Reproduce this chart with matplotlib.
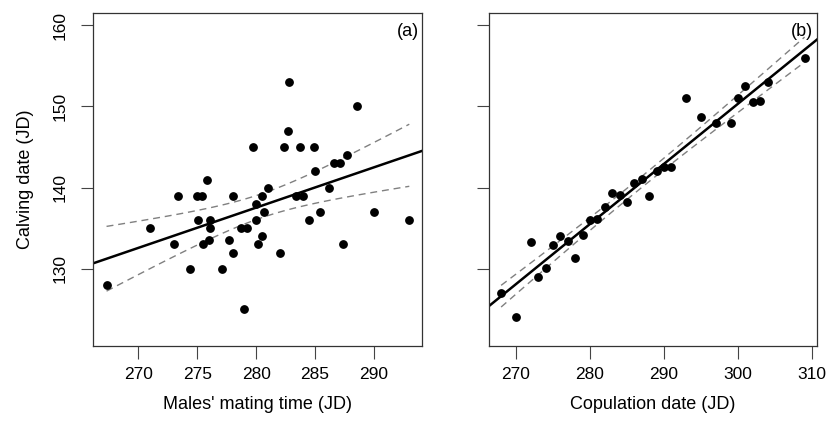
import numpy as np
import matplotlib
matplotlib.use("Agg")
import matplotlib.pyplot as plt

plt.rcParams['font.family'] = ['Liberation Sans', 'DejaVu Sans']

# Panel (a): males' mating time vs calving date
mating_a = [267.3, 271.0, 273.0, 273.4, 274.4, 275.0, 275.1, 275.4, 275.5, 275.8,
            276.0, 276.1, 276.1, 277.1, 277.7, 278.0, 278.0, 278.7, 279.0, 279.2,
            279.7, 280.0, 280.0, 280.2, 280.5, 280.5, 280.7, 281.0, 282.0, 282.4,
            282.7, 282.8, 283.4, 283.7, 284.0, 284.5, 284.9, 285.0, 285.4, 286.2,
            286.6, 287.1, 287.4, 287.7, 288.6, 290.0, 293.0]
calving_a = [128, 135, 133, 139, 130, 139, 136, 139, 133, 141,
             133.5, 136, 135, 130, 133.5, 132, 139, 135, 125, 135,
             145, 138, 136, 133, 139, 134, 137, 140, 132, 145,
             147, 153, 139, 145, 139, 136, 145, 142, 137, 140,
             143, 143, 133, 144, 150, 137, 136]

# Panel (b): copulation date vs calving date
copul_b = [268, 270, 272, 273, 274, 275, 276, 277, 278, 279,
           280, 281, 282, 283, 284, 285, 286, 287, 288, 289,
           290, 290.9, 293, 295, 297, 299, 300, 301, 302, 303,
           304, 309]
calving_b = [127, 124, 133.3, 129, 130.1, 132.9, 134, 133.4, 131.3, 134.2,
             136, 136.1, 137.6, 139.3, 139.1, 138.2, 140.6, 141.1, 139, 142,
             142.6, 142.5, 151, 148.7, 148, 148, 151, 152.5, 150.5, 150.7,
             153, 156]

x_ticks_a = [270, 275, 280, 285, 290]
x_ticks_b = [270, 280, 290, 300, 310]
y_ticks = [130, 140, 150, 160]


def fit_ci(x, y, tval):
    x = np.asarray(x, float)
    y = np.asarray(y, float)
    n = len(x)
    b, a = np.polyfit(x, y, 1)
    res = y - (a + b * x)
    s = np.sqrt(np.sum(res ** 2) / (n - 2))
    sxx = np.sum((x - x.mean()) ** 2)
    xx = np.linspace(x.min(), x.max(), 100)
    se = s * np.sqrt(1 / n + (xx - x.mean()) ** 2 / sxx)
    yy = a + b * xx
    return a, b, xx, yy - tval * se, yy + tval * se


def draw(ax, x, y, tval, xlim, xticks, tag):
    a, b, xx, lo, hi = fit_ci(x, y, tval)
    ax.plot(x, y, 'o', color='black', ms=5.3, mec='black', zorder=3)
    xl = np.array(xlim)
    ax.plot(xl, a + b * xl, color='black', lw=1.8, zorder=2)
    ax.plot(xx, lo, color='#808080', lw=1.0, dashes=(5, 3.5))
    ax.plot(xx, hi, color='#808080', lw=1.0, dashes=(5, 3.5))
    ax.set_xlim(xlim)
    ax.set_ylim(120.48, 161.52)
    ax.set_xticks(xticks)
    ax.set_yticks(y_ticks)
    ax.tick_params(length=9, width=0.8, color='#444444', labelsize=12.5, pad=6)
    ax.tick_params(axis='y', pad=9)
    for sp in ax.spines.values():
        sp.set_linewidth(0.9)
        sp.set_color('#333333')
    ax.text(0.99, 0.97, tag, transform=ax.transAxes, ha='right', va='top', fontsize=13)


fig = plt.figure(figsize=(8.34, 4.36), dpi=100)
ax1 = fig.add_axes([0.1115, 0.2064, 0.3945, 0.7638])
ax2 = fig.add_axes([0.5863, 0.2064, 0.393, 0.7638])

draw(ax1, mating_a, calving_a, 2.014, (266.15, 294.08), x_ticks_a, '(a)')
draw(ax2, copul_b, calving_b, 2.042, (266.36, 310.64), x_ticks_b, '(b)')

for lab in ax1.get_yticklabels():
    lab.set_rotation(90)
    lab.set_va('center')
ax2.set_yticklabels([])

ax1.set_xlabel("Males' mating time (JD)", fontsize=13, labelpad=10)
ax2.set_xlabel("Copulation date (JD)", fontsize=13, labelpad=10)
ax1.set_ylabel("Calving date (JD)", fontsize=13, labelpad=14)

fig.savefig('out.png', dpi=100)
